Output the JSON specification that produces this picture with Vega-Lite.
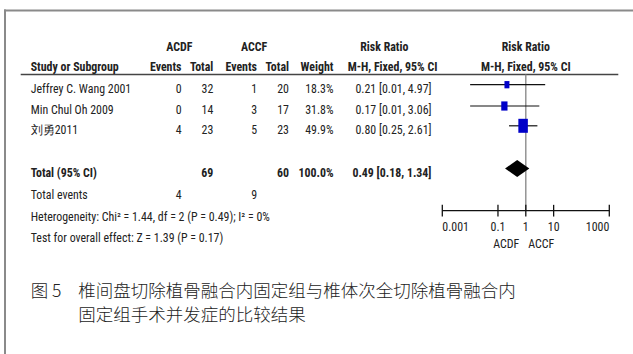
{
  "$schema": "https://vega.github.io/schema/vega-lite/v6.json",
  "width": 628,
  "height": 343.5,
  "autosize": {"type": "none"},
  "padding": {"left": 5, "top": 10.5, "right": 0, "bottom": 0},
  "background": "white",
  "datasets": {
    "studies": [
      {"study": "Jeffrey C. Wang 2001", "e1": 0, "n1": 32, "e2": 1, "n2": 20, "weight": 0.183, "rr": 0.21, "lo": 0.01, "hi": 4.97},
      {"study": "Min Chul Oh 2009", "e1": 0, "n1": 14, "e2": 3, "n2": 17, "weight": 0.318, "rr": 0.17, "lo": 0.01, "hi": 3.06},
      {"study": "刘勇2011", "e1": 4, "n1": 23, "e2": 5, "n2": 23, "weight": 0.499, "rr": 0.80, "lo": 0.25, "hi": 2.61}
    ],
    "pooled": [
      {"label": "Total (95% CI)", "e1": 4, "n1": 69, "e2": 9, "n2": 60, "weight": 1.0, "rr": 0.49, "lo": 0.18, "hi": 1.34}
    ],
    "ticks": [
      {"v": 0.001}, {"v": 0.1}, {"v": 1}, {"v": 10}, {"v": 1000}
    ]
  },
  "data": {"values": [{}]},
  "layer": [
    {
      "layer": [
        {
          "mark": {"type": "rule", "color": "#8a8a8a", "strokeWidth": 2, "strokeCap": "square"},
          "encoding": {"x": {"value": 0}, "y": {"value": 0}, "y2": {"value": "height"}}
        },
        {
          "mark": {"type": "rule", "color": "#8a8a8a", "strokeWidth": 2, "strokeCap": "square"},
          "encoding": {"y": {"value": 0}, "x": {"value": 0}, "x2": {"value": "width"}}
        },
        {
          "mark": {"type": "rule", "color": "#444", "strokeWidth": 1.4},
          "encoding": {
            "x": {"datum": -1, "type": "quantitative", "axis": null,
                  "scale": {"domain": [-1, 0, 1, 2, 3, 4, 5, 6, 7, 8, 9, 10, 11, 12],
                            "range": [15.7, 25.7, 73.3, 174.3, 176.5, 208.3, 249, 252, 284, 328.5, 379.3, 387.5, 426.5, 613.3],
                            "zero": false, "nice": false}},
            "x2": {"datum": 12},
            "y": {"datum": 0.5, "type": "quantitative", "axis": null,
                  "scale": {"domain": [-1, 0, 0.5, 1, 2, 3, 5, 6, 6.8, 7, 7.5, 8, 8.5, 10, 11],
                            "range": [32.2, 52.2, 64, 74.2, 95.5, 115.3, 158, 180.5, 200.2, 202.2, 212.5, 223.8, 229.5, 277.8, 301.2],
                            "zero": false, "nice": false}}
          }
        },
        {"mark": {"type": "text", "fontWeight": "bold", "align": "center"},
         "encoding": {"x": {"datum": 2, "axis": null}, "y": {"datum": -1, "axis": null}, "text": {"value": "ACDF"}}},
        {"mark": {"type": "text", "fontWeight": "bold", "align": "center"},
         "encoding": {"x": {"datum": 5, "axis": null}, "y": {"datum": -1, "axis": null}, "text": {"value": "ACCF"}}},
        {"mark": {"type": "text", "fontWeight": "bold", "align": "center"},
         "encoding": {"x": {"datum": 9, "axis": null}, "y": {"datum": -1, "axis": null}, "text": {"value": "Risk Ratio"}}},
        {"mark": {"type": "text", "fontWeight": "bold", "align": "left"},
         "encoding": {"x": {"datum": 0, "axis": null}, "y": {"datum": 0, "axis": null}, "text": {"value": "Study or Subgroup"}}},
        {"mark": {"type": "text", "fontWeight": "bold", "align": "right"},
         "encoding": {"x": {"datum": 3, "axis": null}, "y": {"datum": 0, "axis": null}, "text": {"value": "Events"}}},
        {"mark": {"type": "text", "fontWeight": "bold", "align": "right"},
         "encoding": {"x": {"datum": 4, "axis": null}, "y": {"datum": 0, "axis": null}, "text": {"value": "Total"}}},
        {"mark": {"type": "text", "fontWeight": "bold", "align": "right"},
         "encoding": {"x": {"datum": 6, "axis": null}, "y": {"datum": 0, "axis": null}, "text": {"value": "Events"}}},
        {"mark": {"type": "text", "fontWeight": "bold", "align": "right"},
         "encoding": {"x": {"datum": 7, "axis": null}, "y": {"datum": 0, "axis": null}, "text": {"value": "Total"}}},
        {"mark": {"type": "text", "fontWeight": "bold", "align": "right"},
         "encoding": {"x": {"datum": 8, "axis": null}, "y": {"datum": 0, "axis": null}, "text": {"value": "Weight"}}},
        {"mark": {"type": "text", "fontWeight": "bold", "align": "center"},
         "encoding": {"x": {"datum": 10, "axis": null}, "y": {"datum": 0, "axis": null}, "text": {"value": "M-H, Fixed, 95% CI"}}},
        {
          "data": {"name": "studies"},
          "transform": [
            {"window": [{"op": "row_number", "as": "k"}]},
            {"calculate": "format(datum.rr, '.2f') + ' [' + format(datum.lo, '.2f') + ', ' + format(datum.hi, '.2f') + ']'", "as": "ci"}
          ],
          "layer": [
            {"mark": {"type": "text", "align": "left"},
             "encoding": {"x": {"datum": 0, "axis": null}, "y": {"field": "k", "type": "quantitative", "axis": null}, "text": {"field": "study"}}},
            {"mark": {"type": "text", "align": "right"},
             "encoding": {"x": {"datum": 3, "axis": null}, "y": {"field": "k", "type": "quantitative", "axis": null}, "text": {"field": "e1"}}},
            {"mark": {"type": "text", "align": "right"},
             "encoding": {"x": {"datum": 4, "axis": null}, "y": {"field": "k", "type": "quantitative", "axis": null}, "text": {"field": "n1"}}},
            {"mark": {"type": "text", "align": "right"},
             "encoding": {"x": {"datum": 6, "axis": null}, "y": {"field": "k", "type": "quantitative", "axis": null}, "text": {"field": "e2"}}},
            {"mark": {"type": "text", "align": "right"},
             "encoding": {"x": {"datum": 7, "axis": null}, "y": {"field": "k", "type": "quantitative", "axis": null}, "text": {"field": "n2"}}},
            {"mark": {"type": "text", "align": "right"},
             "encoding": {"x": {"datum": 8, "axis": null}, "y": {"field": "k", "type": "quantitative", "axis": null}, "text": {"field": "weight", "type": "quantitative", "format": ".1%"}}},
            {"mark": {"type": "text", "align": "right"},
             "encoding": {"x": {"datum": 11, "axis": null}, "y": {"field": "k", "type": "quantitative", "axis": null}, "text": {"field": "ci"}}}
          ]
        },
        {
          "data": {"name": "pooled"},
          "transform": [
            {"calculate": "format(datum.rr, '.2f') + ' [' + format(datum.lo, '.2f') + ', ' + format(datum.hi, '.2f') + ']'", "as": "ci"}
          ],
          "layer": [
            {"mark": {"type": "text", "align": "left", "fontWeight": "bold"},
             "encoding": {"x": {"datum": 0, "axis": null}, "y": {"datum": 5, "axis": null}, "text": {"field": "label"}}},
            {"mark": {"type": "text", "align": "right", "fontWeight": "bold"},
             "encoding": {"x": {"datum": 4, "axis": null}, "y": {"datum": 5, "axis": null}, "text": {"field": "n1"}}},
            {"mark": {"type": "text", "align": "right", "fontWeight": "bold"},
             "encoding": {"x": {"datum": 7, "axis": null}, "y": {"datum": 5, "axis": null}, "text": {"field": "n2"}}},
            {"mark": {"type": "text", "align": "right", "fontWeight": "bold"},
             "encoding": {"x": {"datum": 8, "axis": null}, "y": {"datum": 5, "axis": null}, "text": {"field": "weight", "type": "quantitative", "format": ".1%"}}},
            {"mark": {"type": "text", "align": "right", "fontWeight": "bold"},
             "encoding": {"x": {"datum": 11, "axis": null}, "y": {"datum": 5, "axis": null}, "text": {"field": "ci"}}},
            {"mark": {"type": "text", "align": "left"},
             "encoding": {"x": {"datum": 0, "axis": null}, "y": {"datum": 6, "axis": null}, "text": {"value": "Total events"}}},
            {"mark": {"type": "text", "align": "right"},
             "encoding": {"x": {"datum": 3, "axis": null}, "y": {"datum": 6, "axis": null}, "text": {"field": "e1"}}},
            {"mark": {"type": "text", "align": "right"},
             "encoding": {"x": {"datum": 6, "axis": null}, "y": {"datum": 6, "axis": null}, "text": {"field": "e2"}}}
          ]
        },
        {"mark": {"type": "text", "align": "left"},
         "encoding": {"x": {"datum": 0, "axis": null}, "y": {"datum": 7, "axis": null}, "text": {"value": "Heterogeneity: Chi² = 1.44, df = 2 (P = 0.49); I² = 0%"}}},
        {"mark": {"type": "text", "align": "left"},
         "encoding": {"x": {"datum": 0, "axis": null}, "y": {"datum": 8, "axis": null}, "text": {"value": "Test for overall effect: Z = 1.39 (P = 0.17)"}}},
        {"mark": {"type": "text", "align": "left", "font": "Noto Sans CJK SC", "fontSize": 17.5, "fontWeight": 300, "color": "#222"},
         "encoding": {"x": {"datum": 0, "axis": null}, "y": {"datum": 10, "axis": null}, "text": {"value": "图 5"}}},
        {"mark": {"type": "text", "align": "left", "font": "Noto Sans CJK SC", "fontSize": 17.5, "fontWeight": 300, "color": "#222"},
         "encoding": {"x": {"datum": 1, "axis": null}, "y": {"datum": 10, "axis": null}, "text": {"value": "椎间盘切除植骨融合内固定组与椎体次全切除植骨融合内"}}},
        {"mark": {"type": "text", "align": "left", "font": "Noto Sans CJK SC", "fontSize": 17.5, "fontWeight": 300, "color": "#222"},
         "encoding": {"x": {"datum": 1, "axis": null}, "y": {"datum": 11, "axis": null}, "text": {"value": "固定组手术并发症的比较结果"}}}
      ]
    },
    {
      "layer": [
        {
          "mark": {"type": "rule", "color": "#8c8c8c", "strokeWidth": 1.4},
          "encoding": {
            "x": {"datum": 1, "type": "quantitative", "axis": null,
                  "scale": {"type": "log", "domain": [0.001, 1000], "range": [437.3, 604.3], "nice": false}},
            "y": {"datum": 0.5, "type": "quantitative", "axis": null,
                  "scale": {"domain": [-1, 0, 0.5, 1, 2, 3, 5, 6, 6.8, 7, 7.5, 8, 8.5, 10, 11],
                            "range": [32.2, 52.2, 64, 74.2, 95.5, 115.3, 158, 180.5, 200.2, 202.2, 212.5, 223.8, 229.5, 277.8, 301.2],
                            "zero": false, "nice": false}},
            "y2": {"datum": 6.8}
          }
        },
        {
          "mark": {"type": "rule", "color": "#111", "strokeWidth": 1.3},
          "encoding": {"x": {"datum": 0.001, "axis": null}, "x2": {"datum": 1000}, "y": {"datum": 6.8, "axis": null}}
        },
        {
          "data": {"name": "ticks"},
          "layer": [
            {
              "mark": {"type": "tick", "orient": "vertical", "size": 11.7, "thickness": 1.3, "color": "#111", "opacity": 1},
              "encoding": {"x": {"field": "v", "type": "quantitative", "axis": null}, "y": {"datum": 6.8, "axis": null}}
            },
            {
              "transform": [{"filter": "datum.v == 0.001"}],
              "mark": {"type": "text", "align": "left"},
              "encoding": {"x": {"field": "v", "type": "quantitative", "axis": null}, "y": {"datum": 7.5, "axis": null},
                           "text": {"field": "v", "type": "quantitative", "format": "~g"}}
            },
            {
              "transform": [{"filter": "datum.v > 0.001 && datum.v < 1000"}],
              "mark": {"type": "text", "align": "center"},
              "encoding": {"x": {"field": "v", "type": "quantitative", "axis": null}, "y": {"datum": 7.5, "axis": null},
                           "text": {"field": "v", "type": "quantitative", "format": "~g"}}
            },
            {
              "transform": [{"filter": "datum.v == 1000"}],
              "mark": {"type": "text", "align": "right"},
              "encoding": {"x": {"field": "v", "type": "quantitative", "axis": null}, "y": {"datum": 7.5, "axis": null},
                           "text": {"field": "v", "type": "quantitative", "format": "~g"}}
            }
          ]
        },
        {
          "data": {"name": "studies"},
          "transform": [{"window": [{"op": "row_number", "as": "k"}]}],
          "layer": [
            {
              "mark": {"type": "rule", "color": "#111", "strokeWidth": 1.2},
              "encoding": {
                "x": {"field": "lo", "type": "quantitative", "axis": null},
                "x2": {"field": "hi"},
                "y": {"field": "k", "type": "quantitative", "axis": null}
              }
            },
            {
              "mark": {"type": "point", "filled": true, "opacity": 1, "color": "#0000c8", "shape": "M-0.68,-1H0.68V1H-0.68Z"},
              "encoding": {
                "x": {"field": "rr", "type": "quantitative", "axis": null},
                "y": {"field": "k", "type": "quantitative", "axis": null},
                "size": {"field": "weight", "type": "quantitative", "legend": null,
                         "scale": {"type": "pow", "exponent": 3, "domain": [0.183, 0.499], "range": [53, 196], "zero": false}}
              }
            }
          ]
        },
        {
          "data": {"name": "pooled"},
          "mark": {"type": "point", "filled": true, "opacity": 1, "color": "#000", "size": 590, "shape": "M-1,0L0,-0.71L1,0L0,0.71Z"},
          "encoding": {"x": {"field": "rr", "type": "quantitative", "axis": null}, "y": {"datum": 5, "axis": null}}
        },
        {"mark": {"type": "text", "fontWeight": "bold", "align": "center"},
         "encoding": {"x": {"datum": 1, "axis": null}, "y": {"datum": -1, "axis": null}, "text": {"value": "Risk Ratio"}}},
        {"mark": {"type": "text", "fontWeight": "bold", "align": "center"},
         "encoding": {"x": {"datum": 1, "axis": null}, "y": {"datum": 0, "axis": null}, "text": {"value": "M-H, Fixed, 95% CI"}}},
        {"mark": {"type": "text", "align": "right", "dx": -6.5},
         "encoding": {"x": {"datum": 1, "axis": null}, "y": {"datum": 8.5, "axis": null}, "text": {"value": "ACDF"}}},
        {"mark": {"type": "text", "align": "left", "dx": 2.5},
         "encoding": {"x": {"datum": 1, "axis": null}, "y": {"datum": 8.5, "axis": null}, "text": {"value": "ACCF"}}}
      ]
    }
  ],
  "resolve": {"scale": {"x": "independent"}},
  "config": {
    "view": {"stroke": null},
    "text": {"font": "Roboto Condensed, Noto Sans Condensed, Liberation Sans Narrow, Liberation Sans, sans-serif", "fontSize": 11.9, "color": "#222", "baseline": "middle", "dy": 4}
  }
}
